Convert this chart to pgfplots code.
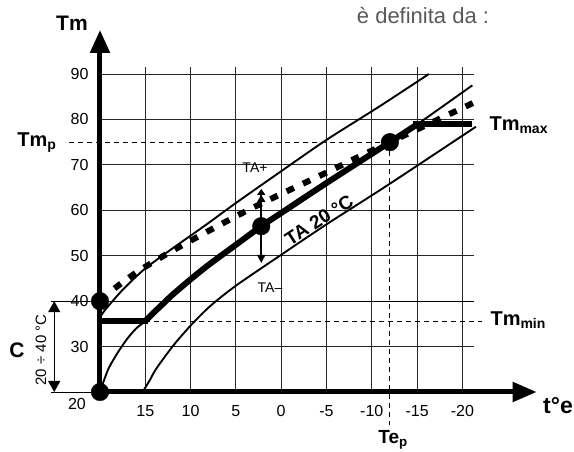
\documentclass[border=0pt]{standalone}
\usepackage{fontspec}
\setmainfont{Liberation Sans}
\usepackage{pgfplots}
\pgfplotsset{compat=1.18}
\usetikzlibrary{arrows.meta}
\newcommand\fs[1]{\fontsize{#1}{#1}\selectfont}
\begin{document}
\begin{tikzpicture}
\useasboundingbox (-100pt,-60pt) rectangle (474pt,392pt);
\begin{axis}[
  x=9.06pt, y=4.543pt,
  x dir=reverse,
  xmin=-28.2, xmax=20, ymin=20, ymax=99.7,
  scale only axis, clip=false,
  axis line style={draw=none},
  tick style={draw=none},
  tick pos=left,
  xtick={15,10,5,0,-5,-10,-15,-20},
  xticklabels={15,10,5,0,-5,-10,-15,-20},
  ytick={30,40,50,60,70,80,90},
  yticklabels={30,40,50,60,70,80,90},
  ticklabel style={font=\fs{16}},
  xticklabel style={yshift=-10pt},
  yticklabel style={xshift=-8pt},
]
% grid
\pgfplotsinvokeforeach{15,10,5,0,-5,-10,-15,-20}{
  \draw[black!85, line width=0.9pt] (axis cs:#1,20) -- (axis cs:#1,91.5);
}
\pgfplotsinvokeforeach{30,50,60,70,80,90}{
  \draw[black!85, line width=0.9pt] (axis cs:20,#1) -- (axis cs:-21.3,#1);
}
\draw[black, line width=0.9pt] (axis cs:25.4,40) -- (axis cs:-21.3,40);
\draw[black, line width=0.9pt] (axis cs:25.4,20) -- (axis cs:20,20);
% dashed reference lines
\draw[line width=1pt, dash pattern=on 5pt off 4pt] (axis cs:23.4,75) -- (axis cs:-12,75);
\draw[line width=1pt, dash pattern=on 5pt off 4pt] (axis cs:-12,75) -- (axis cs:-12,12.7);
\draw[line width=1pt, dash pattern=on 5pt off 4pt] (axis cs:15,35.6) -- (axis cs:-22.2,35.6);
% thin curves
\addplot[black, line width=1.9pt, smooth, tension=0.45] coordinates {
 (20,36.5) (19.5,37.9) (19,39.1) (18,41.4) (17,43.5) (15,47.2) (12,51.6)
 (8.3,56.8) (5,61.6) (0,68.6) (-5,75.5) (-10.8,82.8) (-16.3,90)};
\addplot[black, line width=1.9pt, smooth, tension=0.45] coordinates {
 (20,20) (19.5,22.9) (19,25.4) (18,28.8) (17,31.7) (16,34) (15,35.6)
 (14,37.6) (13,39.5) (12,41.4) (10,44.8) (8,48) (5,52.4) (2.2,56.5)
 (0,59.4) (-5,66) (-12,75) (-15,78.9) (-21.1,87.5)};
\addplot[black, line width=1.9pt, smooth, tension=0.45] coordinates {
 (15.3,20) (14.5,22.6) (13.8,25.1) (12,30) (10.1,34.4) (7.9,38.8)
 (5,43.4) (0,50.2) (-5,56.9) (-10.8,64.3) (-15,69.8) (-21.5,78.4)};
% dotted thick
\addplot[black, line width=6pt, dash pattern=on 8pt off 10pt, smooth, tension=0.45] coordinates {
 (18.4,42.8) (16,46.3) (13.3,49.6) (11,52.2) (7.6,55.9) (4,59.7)
 (0.2,63.4) (-5,68.3) (-9,72.2) (-15,77.8) (-21.9,84.3)};
% heating curve (thick)
\addplot[black, line width=6pt, line cap=butt] coordinates {(20,35.6) (14.7,35.6)};
\addplot[black, line width=6pt, smooth, tension=0.45] coordinates {
 (15,35.6) (14,37.6) (13,39.5) (12,41.4) (10,44.8) (8,48) (5,52.4) (2.2,56.5)
 (0,59.4) (-5,66) (-12,75) (-15,78.9)};
\addplot[black, line width=6pt, line cap=butt] coordinates {(-14.6,78.9) (-21.1,78.9)};
% TA arrows
\draw[line width=1.6pt, -{Triangle[length=7pt,width=8pt]Triangle[length=6pt,width=8pt]}] (axis cs:2.2,56.5) -- (axis cs:2.2,64.7);
\draw[line width=1.6pt, -{Triangle[length=8pt,width=8pt]}] (axis cs:2.2,56.5) -- (axis cs:2.2,48.4);
% C range arrow
\draw[line width=1.3pt, {Triangle[length=11pt,width=12pt]}-{Triangle[length=11pt,width=12pt]}] (axis cs:25.05,40) -- (axis cs:25.05,20);
% points
\addplot[only marks, mark=*, mark size=8.8pt, black] coordinates {(20,20) (20,40) (2.2,56.5) (-12,75)};
% axes
\draw[line width=5pt, -{Triangle[length=24pt,width=19pt]}] (axis cs:20.28,20) -- (axis cs:-28.2,20);
\draw[line width=5pt, -{Triangle[length=23pt,width=19pt]}] (axis cs:20,20) -- (axis cs:20,99.7);
\end{axis}
% labels (1pt = 1px; origin at axis corner)
\node[font=\fs{21}\bfseries] at (-28pt,369pt) {Tm};
\node[font=\fs{20}\bfseries, anchor=east] at (-40pt,249pt) {Tm\textsubscript{p}};
\node[font=\fs{21}\bfseries] at (-83pt,42pt) {C};
\node[font=\fs{15}, rotate=90] at (-59pt,42pt) {20 ÷ 40 °C};
\node[font=\fs{16}] at (-23pt,-12pt) {20};
\node[font=\fs{19}\bfseries] at (293pt,-48pt) {Te\textsubscript{p}};
\node[font=\fs{23}\bfseries] at (458pt,-14pt) {t°e};
\node[font=\fs{20}\bfseries, anchor=west] at (386pt,267pt) {Tm\textsubscript{max}};
\node[font=\fs{20}\bfseries, anchor=west] at (387pt,72pt) {Tm\textsubscript{min}};
\node[font=\fs{14}] at (155pt,224pt) {TA+};
\node[font=\fs{14}] at (170pt,104pt) {TA–};
\node[font=\fs{19}\bfseries, rotate=33] at (219pt,172pt) {TA 20 °C};
\node[font=\fs{22}, text=black!65] at (323pt,376pt) {è definita da :};
\end{tikzpicture}
\end{document}
